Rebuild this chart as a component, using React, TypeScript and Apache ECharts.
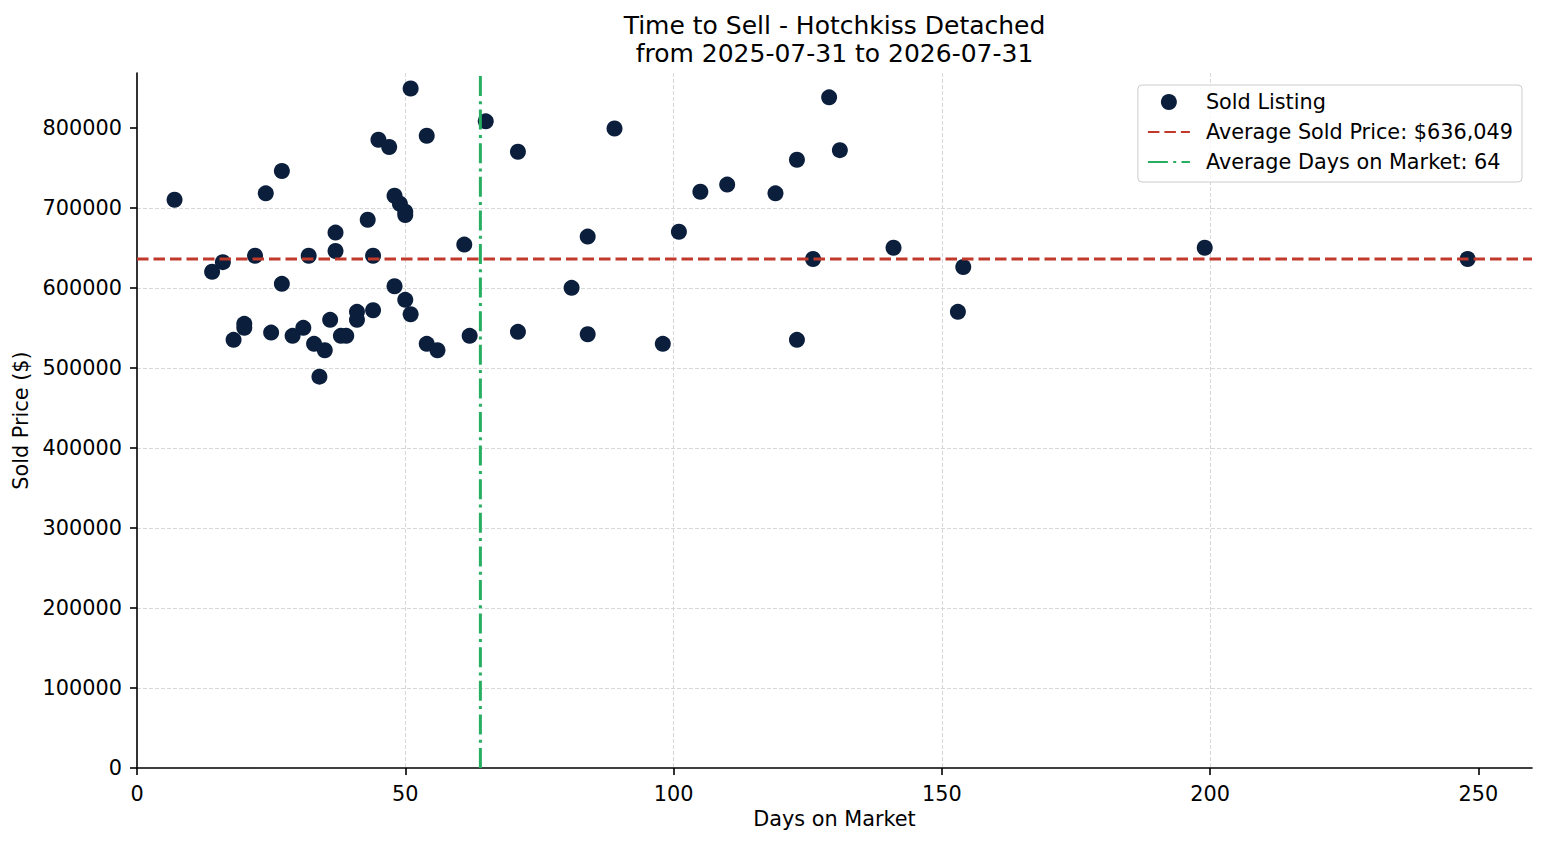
import React from 'react';
import * as echarts from 'echarts';

// data
const daysOnMarket = [
  7, 14, 16, 18, 20, 20, 22, 24, 25, 27, 27, 29, 31, 32, 33, 34,
  35, 36, 37, 37, 38, 39, 41, 41, 43, 44, 44, 45, 47, 48, 48, 49,
  50, 50, 50, 51, 51, 54, 54, 56, 61, 62, 65, 71, 71, 81, 84, 84,
  89, 98, 101, 105, 110, 119, 123, 123, 126, 129, 131, 141, 153, 154, 199, 248,
];
const soldPrices = [
  710000, 620000, 632000, 535000, 555000, 550000, 640000, 718000, 544000, 746000, 605000, 540000, 550000, 640000, 530000, 489000,
  522000, 560000, 669000, 646000, 540000, 540000, 570000, 560000, 685000, 640000, 572000, 785000, 776000, 715000, 602000, 705000,
  695000, 691000, 585000, 849000, 567000, 790000, 530000, 522000, 654000, 540000, 808000, 770000, 545000, 600000, 664000, 542000,
  799000, 530000, 670000, 720000, 729000, 718000, 760000, 535000, 636000, 838000, 772000, 650000, 570000, 626000, 650000, 636000,
];
const avgPrice = 636049;
const avgDays = 64;
const xTicks = [0, 50, 100, 150, 200, 250];
const yTicks = [0, 100000, 200000, 300000, 400000, 500000, 600000, 700000, 800000];
const titleLines = ['Time to Sell - Hotchkiss Detached', 'from 2025-07-31 to 2026-07-31'];

const X_MAX = 260;
const Y_MAX = 868400;
const FONT = 'DejaVu Sans';

const App: React.FC = () => {
  const chartRef = React.useRef<HTMLDivElement>(null);

  React.useEffect(() => {
    if (!chartRef.current) return;
    document.body.style.margin = '0';

    const chart = echarts.init(chartRef.current, null, { renderer: 'svg' });

    const priceLabel = `Average Sold Price: $${avgPrice.toLocaleString('en-US')}`;
    const daysLabel = `Average Days on Market: ${avgDays}`;

    const axisCommon = {
      type: 'value' as const,
      nameLocation: 'middle' as const,
      nameTextStyle: { fontFamily: FONT, fontSize: 20.8, color: '#000' },
      axisLine: { show: true, lineStyle: { color: '#000', width: 1.6 } },
      axisTick: { show: true, length: 7, lineStyle: { color: '#000', width: 1.6 } },
      splitLine: {
        show: true,
        showMinLine: false,
        showMaxLine: false,
        lineStyle: { color: '#d4d4d4', width: 0.9, type: [4, 2] },
      },
    };

    const tickLabel = {
      margin: 15,
      fontFamily: FONT,
      fontSize: 20.8,
      color: '#000',
      formatter: (v: number) => String(v),
    };

    chart.setOption({
      animation: false,
      textStyle: { fontFamily: FONT },
      graphic: titleLines.map((t, i) => ({
        type: 'text',
        x: 834.5,
        y: 25 + i * 28.5,
        style: {
          text: t,
          fill: '#000',
          fontFamily: FONT,
          fontSize: 25,
          align: 'center',
          verticalAlign: 'middle',
        },
      })),
      grid: { left: 137, right: 15, top: 73, bottom: 77 },
      legend: {
        right: 25,
        top: 85,
        orient: 'vertical',
        selectedMode: false,
        itemWidth: 42,
        itemHeight: 16,
        itemGap: 9,
        padding: [6.5, 9, 9.5, 9],
        borderColor: '#cccccc',
        borderWidth: 1,
        borderRadius: 4,
        backgroundColor: 'rgba(255,255,255,0.8)',
        textStyle: { fontFamily: FONT, fontSize: 20.8, color: '#000', padding: [0, 0, 0, 11] },
        data: [
          { name: 'Sold Listing' },
          { name: priceLabel, itemStyle: { opacity: 0 } },
          { name: daysLabel, itemStyle: { opacity: 0 } },
        ],
      },
      xAxis: {
        ...axisCommon,
        min: 0,
        max: X_MAX,
        interval: 50,
        name: 'Days on Market',
        nameGap: 40,
        axisLabel: { ...tickLabel, customValues: xTicks },
        axisTick: { ...axisCommon.axisTick, customValues: xTicks },
      },
      yAxis: {
        ...axisCommon,
        min: 0,
        max: Y_MAX,
        interval: 100000,
        name: 'Sold Price ($)',
        nameGap: 93,
        axisLabel: { ...tickLabel, customValues: yTicks },
        axisTick: { ...axisCommon.axisTick, customValues: yTicks },
      },
      series: [
        {
          name: 'Sold Listing',
          type: 'scatter',
          symbol: 'circle',
          symbolSize: 16,
          itemStyle: { color: '#0b1f3d', opacity: 1 },
          data: daysOnMarket.map((d, i) => [d, soldPrices[i]]),
          z: 2,
        },
        {
          name: priceLabel,
          type: 'line',
          symbol: 'none',
          lineStyle: { color: '#c0392b', width: 3, type: [11.5, 5] },
          itemStyle: { color: '#c0392b' },
          data: [[0, avgPrice], [X_MAX, avgPrice]],
          z: 3,
        },
        {
          name: daysLabel,
          type: 'line',
          symbol: 'none',
          lineStyle: { color: '#27ae60', width: 3, type: [20, 5.3, 3, 5.3] },
          itemStyle: { color: '#27ae60' },
          data: [[avgDays, 0], [avgDays, Y_MAX]],
          z: 3,
        },
      ],
    });

    return () => {
      chart.dispose();
    };
  }, []);

  return <div ref={chartRef} style={{ width: '1547px', height: '845px' }} />;
};

export default App;
